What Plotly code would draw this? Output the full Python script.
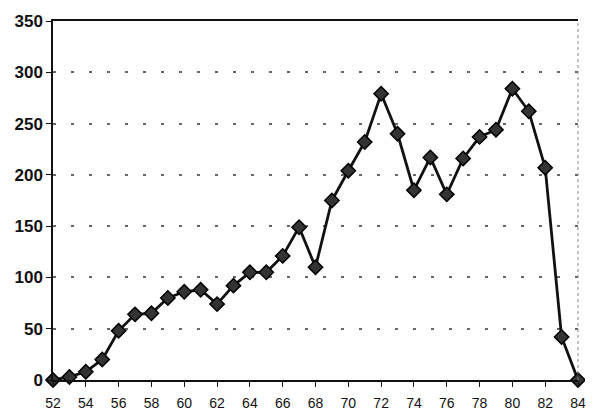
import plotly.graph_objects as go

years = list(range(52, 85))
counts = [0, 3, 8, 20, 48, 64, 65, 80, 86, 88, 74, 92, 105, 105, 121, 149, 110,
          175, 204, 232, 279, 240, 185, 217, 181, 216, 237, 244, 284, 262, 207, 42, 0]

fig = go.Figure(go.Scatter(
    x=years, y=counts, mode='lines+markers',
    line=dict(color='#111111', width=2.8),
    marker=dict(symbol='diamond', size=11, color='#333333',
                line=dict(color='#000000', width=1.5)),
    cliponaxis=False,
))

# page body has an 8px margin, so the figure is shrunk by that much
fig.update_layout(
    width=585, height=409,
    paper_bgcolor='white', plot_bgcolor='white',
    margin=dict(l=45, r=15, t=13, b=37, autoexpand=False),
    showlegend=False,
    font=dict(family='Liberation Sans, Arial, sans-serif', color='#111111'),
    shapes=[dict(type='line', xref='paper', yref='paper', x0=1, x1=1, y0=0, y1=1,
                 line=dict(color='#888888', width=1, dash='dot'))],
)
fig.update_xaxes(
    range=[52, 84], tickmode='array', tickvals=list(range(52, 85, 2)),
    showgrid=False, zeroline=False, automargin=False,
    showline=True, linecolor='#111111', linewidth=1.5, mirror=True,
    ticks='outside', ticklen=5, tickcolor='#111111', ticklabelstandoff=4,
    tickfont=dict(size=14, family='Liberation Sans, Arial, sans-serif', color='#111111'),
)
fig.update_yaxes(
    range=[0, 350], dtick=50, automargin=False,
    showgrid=True, gridcolor='#666666', griddash='3px,15px', gridwidth=1.5,
    zeroline=False,
    showline=True, linecolor='#111111', linewidth=1.5,
    ticks='outside', ticklen=5, tickcolor='#111111',
    tickfont=dict(size=17, family='Liberation Sans, Arial, sans-serif', color='#111111', weight='bold'),
)

fig.write_html("out.html")
